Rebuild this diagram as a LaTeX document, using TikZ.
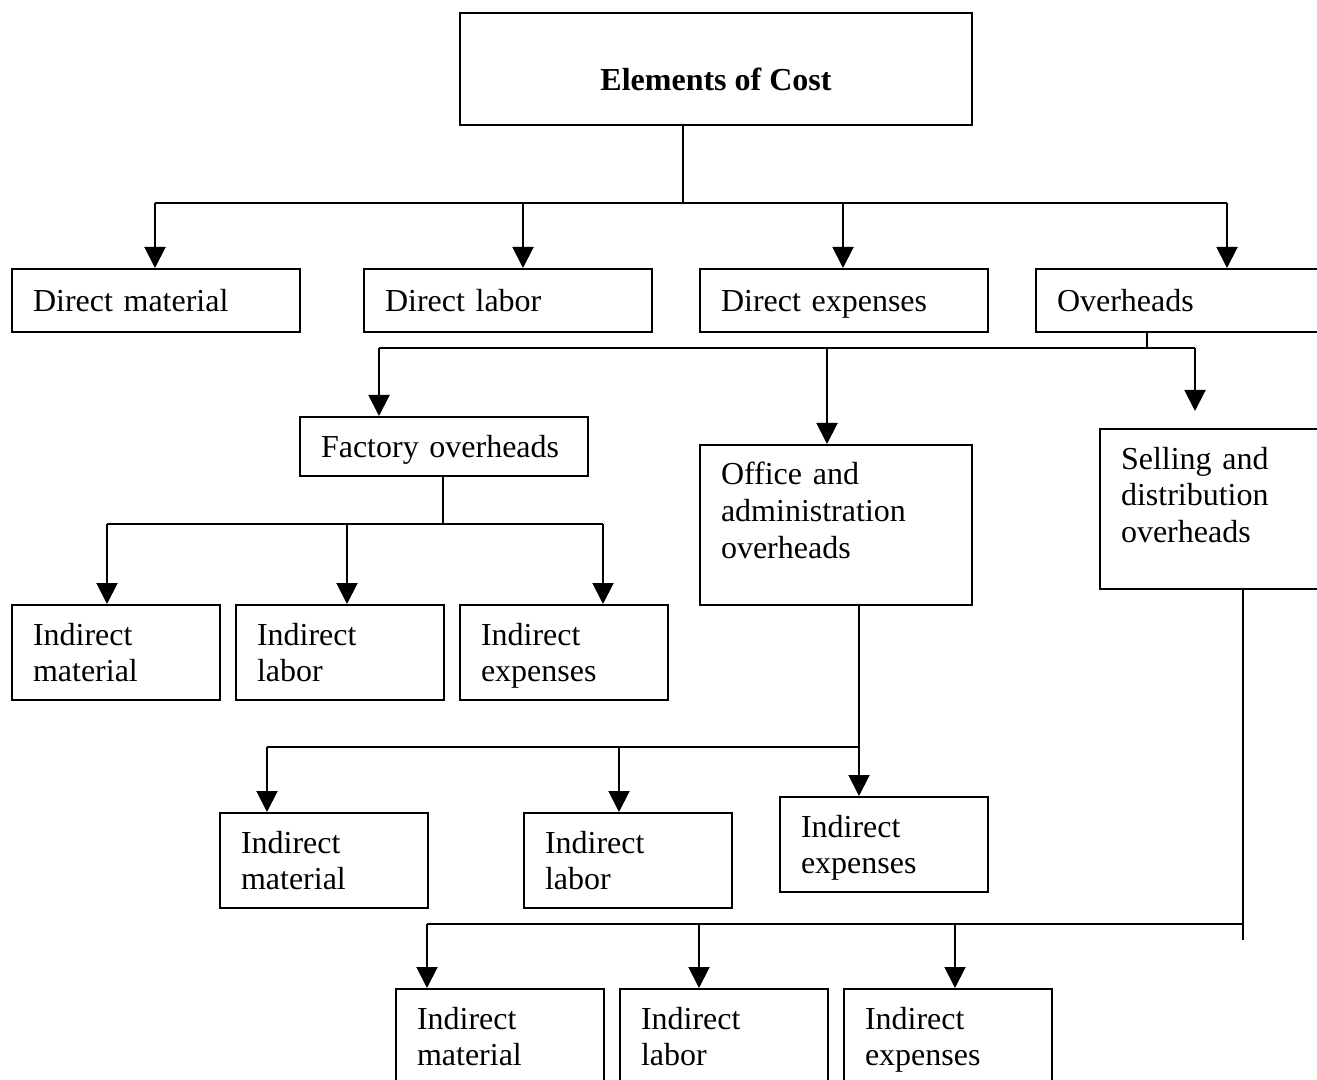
\documentclass[tikz,border=0pt]{standalone}
\usepackage{fontspec}
\setmainfont{Liberation Serif}
\usetikzlibrary{arrows.meta}

\begin{document}
\begin{tikzpicture}[x=0.5pt,y=-0.5pt,
  every node/.style={font=\fontsize{16}{18.25}\selectfont},
  cell/.style={draw,line width=1pt,anchor=north west,align=left,inner xsep=10.5pt,inner ysep=0pt,text height=11pt,text depth=0pt},
  wide/.style={cell,text width=123pt,minimum height=31.5pt},
  small/.style={cell,text width=83pt,minimum height=47.5pt,text depth=18.25pt},
  tall/.style={cell,text width=115pt,minimum height=80pt,text depth=51pt},
  arr/.style={-{Triangle[length=10.5pt,width=10.5pt]},line width=1pt}]
\useasboundingbox (0,0) rectangle (1317,1080);
\clip (0,0) rectangle (1317,1080);
\node[draw,line width=1pt,anchor=north west,minimum width=256pt,minimum height=56pt,text height=22pt,text depth=0pt,font=\fontsize{16}{18.25}\selectfont\bfseries] (cost) at (459,12) {Elements of Cost};
\node[wide] (dm) at (11,268) {Direct material};
\node[wide] (dl) at (363,268) {Direct labor};
\node[wide] (de) at (699,268) {Direct expenses};
\node[wide] (ov) at (1035,268) {Overheads};
\node[wide,minimum height=29.5pt] (fo) at (299,416) {Factory overheads};
\node[tall] (oa) at (699,444) {Office and\\administration\\overheads};
\node[tall] (sd) at (1099,428) {Selling and\\distribution\\overheads};
\node[small] (im1) at (11,604) {Indirect\\material};
\node[small] (il1) at (235,604) {Indirect\\labor};
\node[small] (ie1) at (459,604) {Indirect\\expenses};
\node[small] (im2) at (219,812) {Indirect\\material};
\node[small] (il2) at (523,812) {Indirect\\labor};
\node[small] (ie2) at (779,796) {Indirect\\expenses};
\node[small] (im3) at (395,988) {Indirect\\material};
\node[small] (il3) at (619,988) {Indirect\\labor};
\node[small] (ie3) at (843,988) {Indirect\\expenses};
\coordinate (t0) at (683,203);
\coordinate (t1) at (155,203);
\coordinate (t2) at (523,203);
\coordinate (t3) at (843,203);
\coordinate (t4) at (1227,203);
\draw[line width=1pt] (cost.south -| t0) -- (t0);
\draw[line width=1pt] (t1) -- (t4);
\foreach \n/\t in {dm/t1,dl/t2,de/t3,ov/t4}
  \draw[arr] (\t) -- (\n.north -| \t);
\coordinate (o0) at (1147,348);
\coordinate (o1) at (379,348);
\coordinate (o2) at (827,348);
\coordinate (o3) at (1195,348);
\draw[line width=1pt] (ov.south -| o0) -- (o0);
\draw[line width=1pt] (o1) -- (o3);
\draw[arr] (o1) -- (fo.north -| o1);
\draw[arr] (o2) -- (oa.north -| o2);
\draw[arr,shorten >=8.5pt] (o3) -- (sd.north -| o3);
\coordinate (f0) at (443,524);
\coordinate (f1) at (107,524);
\coordinate (f2) at (347,524);
\coordinate (f3) at (603,524);
\draw[line width=1pt] (fo.south -| f0) -- (f0);
\draw[line width=1pt] (f1) -- (f3);
\foreach \n/\t in {im1/f1,il1/f2,ie1/f3}
  \draw[arr] (\t) -- (\n.north -| \t);
\coordinate (a0) at (859,747);
\coordinate (a1) at (267,747);
\coordinate (a2) at (619,747);
\draw[arr] (oa.south -| a0) -- (ie2.north -| a0);
\draw[line width=1pt] (a1) -- (a0);
\foreach \n/\t in {im2/a1,il2/a2}
  \draw[arr] (\t) -- (\n.north -| \t);
\coordinate (s0) at (1243,924);
\coordinate (s1) at (427,924);
\coordinate (s2) at (699,924);
\coordinate (s3) at (955,924);
\coordinate (s9) at (1243,940);
\draw[line width=1pt] (sd.south -| s0) -- (s9);
\draw[line width=1pt] (s1) -- (s0);
\foreach \n/\t in {im3/s1,il3/s2,ie3/s3}
  \draw[arr] (\t) -- (\n.north -| \t);
\end{tikzpicture}
\end{document}
